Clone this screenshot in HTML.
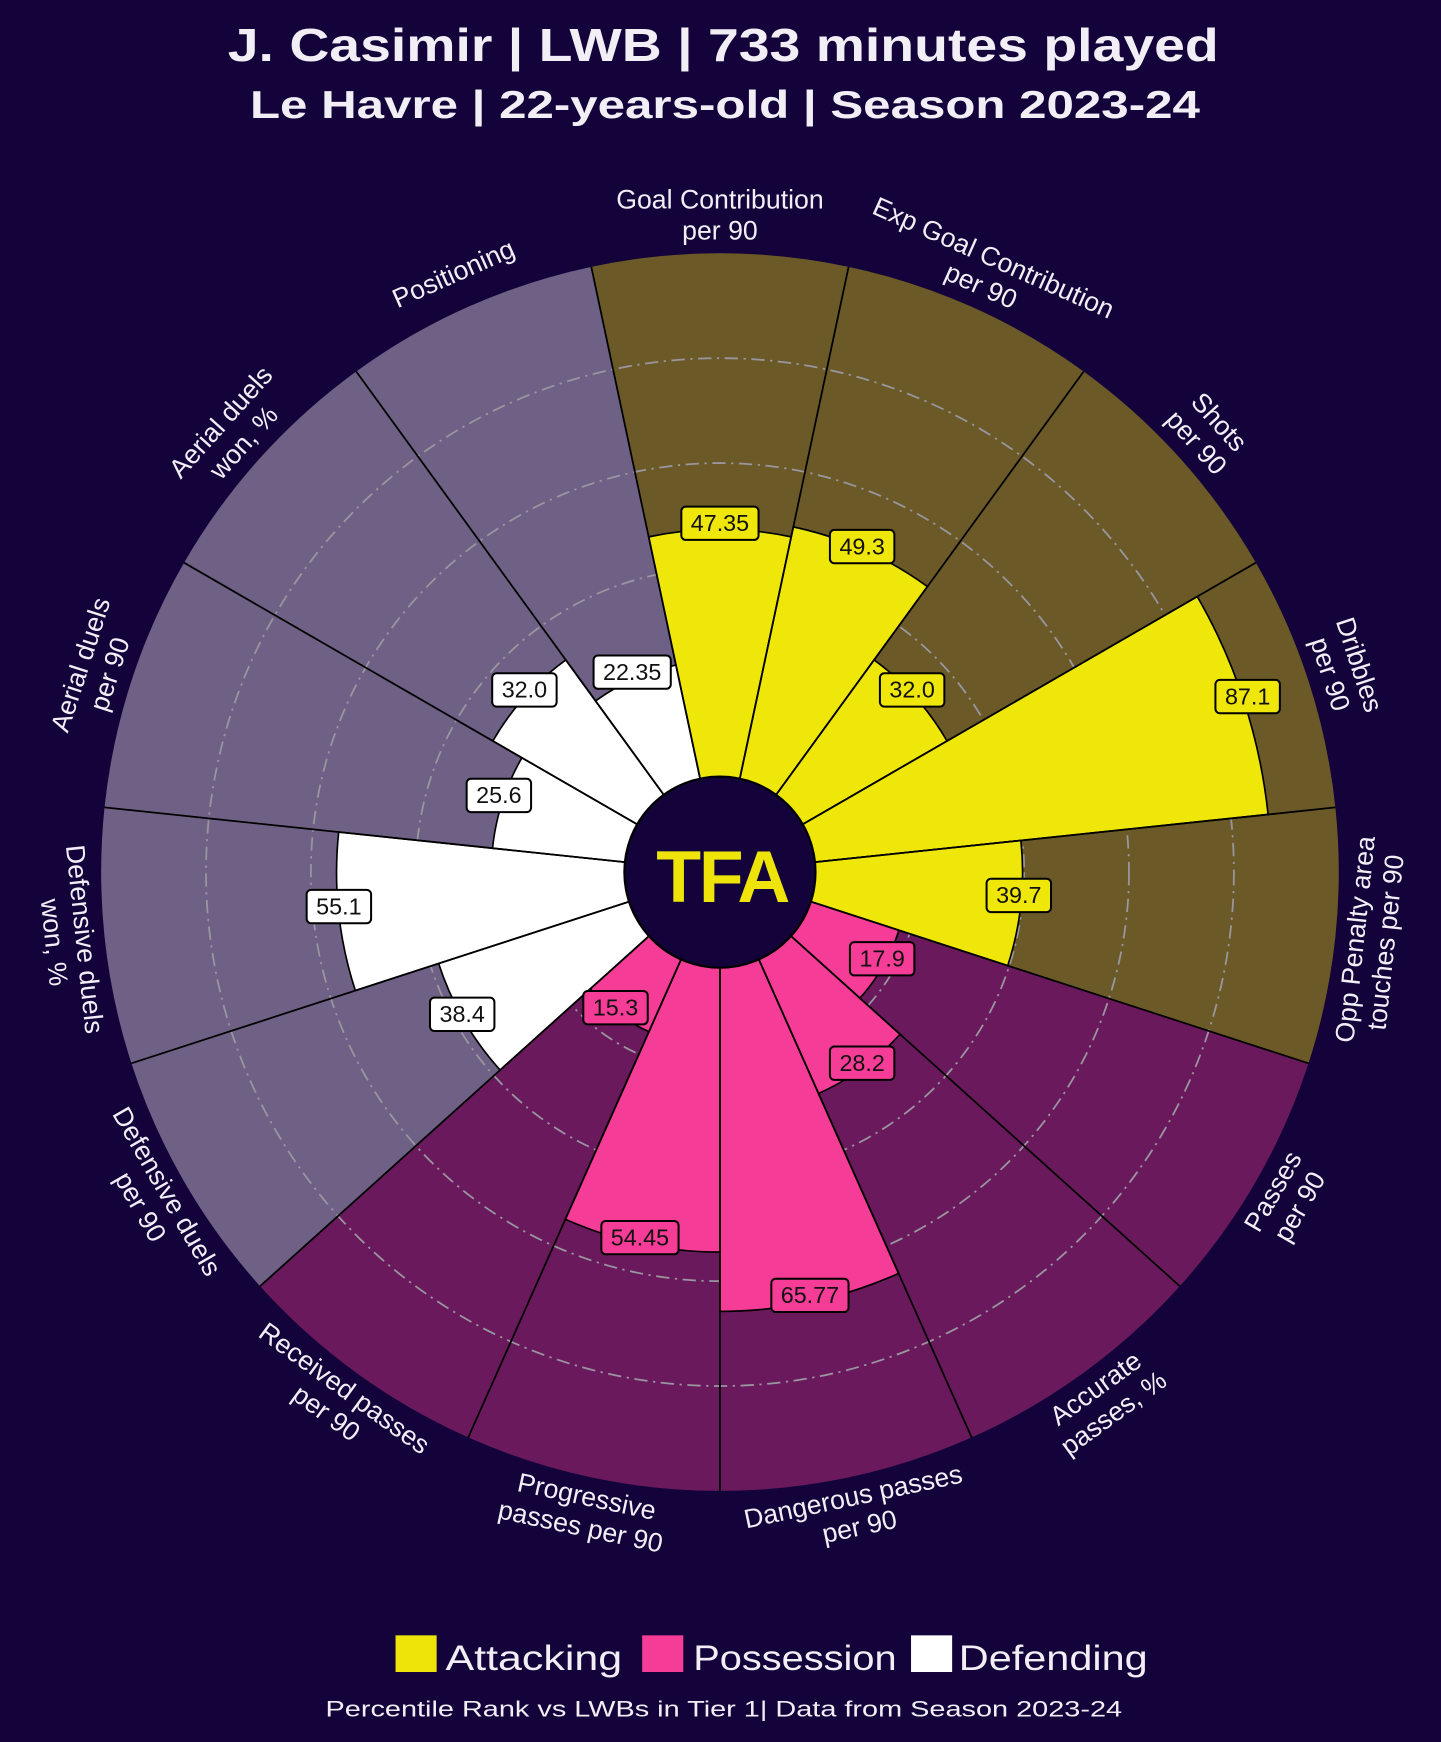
<!DOCTYPE html>
<html><head><meta charset="utf-8">
<style>
html,body{margin:0;padding:0;background:#14033a;}
svg{display:block;}
text{font-family:"Liberation Sans",sans-serif;}
</style></head>
<body>
<svg id="s" width="1441" height="1742" viewBox="0 0 1297 1568" xmlns="http://www.w3.org/2000/svg">
<rect width="1297" height="1568" fill="#14033a"/>
<g id="shapes"></g>
<g font-size="24" fill="#f2eef6" text-anchor="middle">
<text transform="translate(648,195) rotate(0)"><tspan x="0" dy="-0.3em">Goal Contribution</tspan><tspan x="0" dy="1.15em">per 90</tspan></text>
<text transform="translate(888,246) rotate(24)"><tspan x="0" dy="-0.3em">Exp Goal Contribution</tspan><tspan x="0" dy="1.15em">per 90</tspan></text>
<text transform="translate(1086,390) rotate(48)"><tspan x="0" dy="-0.3em">Shots</tspan><tspan x="0" dy="1.15em">per 90</tspan></text>
<text transform="translate(1209,603) rotate(72)"><tspan x="0" dy="-0.3em">Dribbles</tspan><tspan x="0" dy="1.15em">per 90</tspan></text>
<text transform="translate(1235,847) rotate(-84)"><tspan x="0" dy="-0.3em">Opp Penalty area</tspan><tspan x="0" dy="1.15em">touches per 90</tspan></text>
<text transform="translate(1159,1080) rotate(-60)"><tspan x="0" dy="-0.3em">Passes</tspan><tspan x="0" dy="1.15em">per 90</tspan></text>
<text transform="translate(995,1262) rotate(-36)"><tspan x="0" dy="-0.3em">Accurate</tspan><tspan x="0" dy="1.15em">passes, %</tspan></text>
<text transform="translate(771,1362) rotate(-12)"><tspan x="0" dy="-0.3em">Dangerous passes</tspan><tspan x="0" dy="1.15em">per 90</tspan></text>
<text transform="translate(525,1362) rotate(12)"><tspan x="0" dy="-0.3em">Progressive</tspan><tspan x="0" dy="1.15em">passes per 90</tspan></text>
<text transform="translate(301,1262) rotate(36)"><tspan x="0" dy="-0.3em">Received passes</tspan><tspan x="0" dy="1.15em">per 90</tspan></text>
<text transform="translate(137,1080) rotate(60)"><tspan x="0" dy="-0.3em">Defensive duels</tspan><tspan x="0" dy="1.15em">per 90</tspan></text>
<text transform="translate(61,847) rotate(84)"><tspan x="0" dy="-0.3em">Defensive duels</tspan><tspan x="0" dy="1.15em">won, %</tspan></text>
<text transform="translate(87,603) rotate(-72)"><tspan x="0" dy="-0.3em">Aerial duels</tspan><tspan x="0" dy="1.15em">per 90</tspan></text>
<text transform="translate(210,390) rotate(-48)"><tspan x="0" dy="-0.3em">Aerial duels</tspan><tspan x="0" dy="1.15em">won, %</tspan></text>
<text transform="translate(408,246) rotate(-24)" dy="0.35em">Positioning</text>
</g>
<g id="vals" font-size="21" text-anchor="middle" fill="#111"></g>
<circle cx="648" cy="785" r="86" fill="#14033a" stroke="#000" stroke-width="2"/>
<text x="650" y="812" font-size="66" font-weight="bold" fill="#efe40a" text-anchor="middle" letter-spacing="-2">TFA</text>
<text x="205" y="55" font-size="42" font-weight="bold" fill="#f2eef6" textLength="892" lengthAdjust="spacingAndGlyphs">J. Casimir | LWB | 733 minutes played</text>
<text x="225" y="106" font-size="35" font-weight="bold" fill="#f2eef6" textLength="855" lengthAdjust="spacingAndGlyphs">Le Havre | 22-years-old | Season 2023-24</text>
<rect x="356" y="1472" width="37" height="33" fill="#efe40a"/>
<text x="401" y="1503" font-size="32" fill="#f2eef6" textLength="159" lengthAdjust="spacingAndGlyphs">Attacking</text>
<rect x="578" y="1472" width="37" height="33" fill="#f53c96"/>
<text x="624" y="1503" font-size="32" fill="#f2eef6" textLength="183" lengthAdjust="spacingAndGlyphs">Possession</text>
<rect x="820" y="1472" width="37" height="33" fill="#ffffff"/>
<text x="863" y="1503" font-size="32" fill="#f2eef6" textLength="170" lengthAdjust="spacingAndGlyphs">Defending</text>
<text x="293" y="1545" font-size="20" fill="#f2eef6" textLength="717" lengthAdjust="spacingAndGlyphs">Percentile Rank vs LWBs in Tier 1| Data from Season 2023-24</text>
</svg>
<script>
(function(){
var NS="http://www.w3.org/2000/svg",cx=648,cy=785,R=557,r0=85,k=(R-r0)/100;
var vals=[47.35,49.3,32.0,87.1,39.7,17.9,28.2,65.77,54.45,15.3,38.4,55.1,25.6,32.0,22.35];
var bg=["#6b5a28","#6b5a28","#6b5a28","#6b5a28","#6b5a28","#6a1a5c","#6a1a5c","#6a1a5c","#6a1a5c","#6a1a5c","#6e6185","#6e6185","#6e6185","#6e6185","#6e6185"];
var fg=["#efe60a","#efe60a","#efe60a","#efe60a","#efe60a","#f53c96","#f53c96","#f53c96","#f53c96","#f53c96","#fff","#fff","#fff","#fff","#fff"];
var g=document.getElementById("shapes");
function pt(r,a){a=a*Math.PI/180;return [cx+r*Math.sin(a),cy-r*Math.cos(a)];}
function sec(r,a1,a2){var p1=pt(r,a1),p2=pt(r,a2);return "M"+cx+","+cy+"L"+p1[0]+","+p1[1]+"A"+r+","+r+" 0 0 1 "+p2[0]+","+p2[1]+"Z";}
function add(tag,at){var e=document.createElementNS(NS,tag);for(var q in at)e.setAttribute(q,at[q]);g.appendChild(e);return e;}
for(var i=0;i<15;i++){var a=i*24;add("path",{d:sec(R,a-12,a+12),fill:bg[i]});}
for(var j=1;j<=4;j++)add("circle",{cx:cx,cy:cy,r:r0+j*20*k,fill:"none",stroke:"#9a96a0","stroke-width":1.6,"stroke-dasharray":"12,5,2,5"});
for(var i=0;i<15;i++){var a=i*24;add("path",{d:sec(r0+vals[i]*k,a-12,a+12),fill:fg[i],stroke:"#000","stroke-width":1.5});}
for(var i=0;i<15;i++){var p=pt(R,i*24-12);add("line",{x1:cx,y1:cy,x2:p[0],y2:p[1],stroke:"#000","stroke-width":1.6});}
var pos=[[648,471],[776,492],[821,621],[1123,627],[917,806],[794,863],[776,957],[729,1166],[576,1114],[554,907],[416,913],[305,816],[449,716],[472,621],[569,605]];
var labels=["47.35","49.3","32.0","87.1","39.7","17.9","28.2","65.77","54.45","15.3","38.4","55.1","25.6","32.0","22.35"];
var vg=document.getElementById("vals");
for(var i=0;i<15;i++){var w=labels[i].length*11.5+12;
var r=document.createElementNS(NS,"rect");r.setAttribute("x",pos[i][0]-w/2);r.setAttribute("y",pos[i][1]-15);r.setAttribute("width",w);r.setAttribute("height",30);r.setAttribute("rx",4);r.setAttribute("fill",fg[i]);r.setAttribute("stroke","#000");r.setAttribute("stroke-width",1.8);vg.appendChild(r);
var t=document.createElementNS(NS,"text");t.setAttribute("x",pos[i][0]);t.setAttribute("y",pos[i][1]+7);t.textContent=labels[i];vg.appendChild(t);}
})();
</script>
</body></html>
